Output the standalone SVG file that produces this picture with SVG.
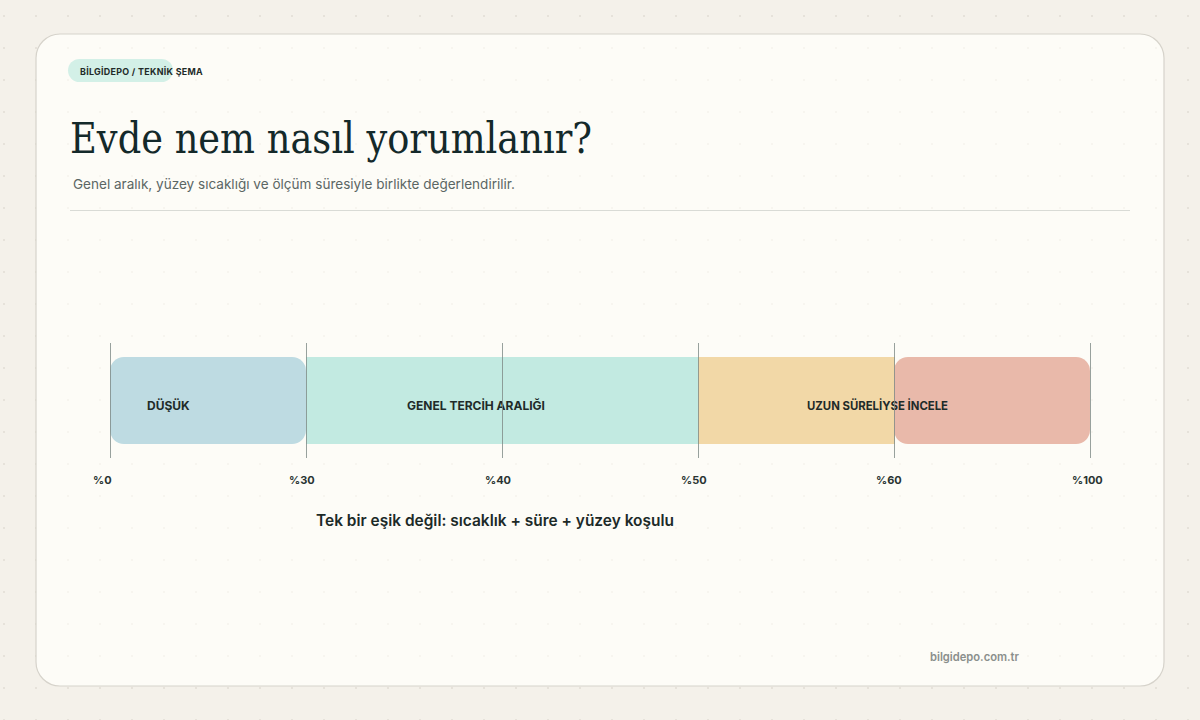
<svg xmlns="http://www.w3.org/2000/svg" width="1200" height="720" viewBox="0 0 1200 720">
<defs>
<pattern id="dots" x="0" y="0" width="32" height="32" patternUnits="userSpaceOnUse">
<circle cx="4" cy="16" r="1" fill="#e2ded5"/>
</pattern>
<style>
.sans{font-family:Inter,"Noto Sans","Liberation Sans",sans-serif;}
.tick{stroke:#7f8b87;stroke-width:1;opacity:0.8;}
.tl{font-family:Inter,"Noto Sans","Liberation Sans",sans-serif;font-size:11px;font-weight:700;fill:#2a3432;}
.bl{font-family:Inter,"Noto Sans","Liberation Sans",sans-serif;font-size:12px;font-weight:700;fill:#1f2b29;}
</style>
</defs>
<rect width="1200" height="720" fill="#f4f1ea"/>
<rect width="1200" height="720" fill="url(#dots)"/>
<rect x="36" y="34" width="1128" height="652" rx="24" fill="#fdfcf7" stroke="#d6d3cb" stroke-width="1.2"/>
<rect x="36" y="34" width="1128" height="652" rx="24" fill="url(#dots)" opacity="0.3"/>

<g id="header">
<rect x="68" y="59" width="105" height="23" rx="11.5" fill="#d3f0e7"/>
<text x="80" y="74.5" class="sans" font-size="9" font-weight="700" letter-spacing="0.3" fill="#1f2b29" textLength="123" lengthAdjust="spacingAndGlyphs">BİLGİDEPO / TEKNİK ŞEMA</text>
<text x="70" y="153" font-family="'DejaVu Serif','Liberation Serif',serif" font-size="42" fill="#14292a" textLength="522" lengthAdjust="spacingAndGlyphs">Evde nem nasıl yorumlanır?</text>
<text x="73" y="189" class="sans" font-size="13.6" fill="#5b6664" textLength="442" lengthAdjust="spacingAndGlyphs">Genel aralık, yüzey sıcaklığı ve ölçüm süresiyle birlikte değerlendirilir.</text>
<line x1="70" y1="210.5" x2="1130" y2="210.5" stroke="#d9dbd6" stroke-width="1"/>
</g>

<g id="band-dusuk">
<rect x="110" y="357" width="196" height="87" rx="14" fill="#bedbe2"/>
<text x="147" y="410" class="bl">DÜŞÜK</text>
</g>
<g id="band-genel">
<rect x="306" y="357" width="392" height="87" fill="#c2eae1"/>
<text x="476" y="410" class="bl" text-anchor="middle">GENEL TERCİH ARALIĞI</text>
</g>
<g id="band-uzun">
<rect x="698" y="357" width="197" height="87" fill="#f2d8a7"/>
</g>
<g id="band-incele">
<rect x="894" y="357" width="196" height="87" rx="14" fill="#e9b9aa"/>
</g>
<text x="807" y="410" class="bl" textLength="141" lengthAdjust="spacingAndGlyphs">UZUN SÜRELİYSE İNCELE</text>

<g id="connectors">
<line class="tick" x1="110.5" y1="343" x2="110.5" y2="458"/>
<line class="tick" x1="306.5" y1="343" x2="306.5" y2="458"/>
<line class="tick" x1="502.5" y1="343" x2="502.5" y2="458"/>
<line class="tick" x1="698.5" y1="343" x2="698.5" y2="458"/>
<line class="tick" x1="894.5" y1="343" x2="894.5" y2="458"/>
<line class="tick" x1="1090.5" y1="343" x2="1090.5" y2="458"/>
</g>

<g id="scale">
<text x="93" y="484" class="tl">%0</text>
<text x="289" y="484" class="tl">%30</text>
<text x="485" y="484" class="tl">%40</text>
<text x="681" y="484" class="tl">%50</text>
<text x="876" y="484" class="tl">%60</text>
<text x="1072" y="484" class="tl">%100</text>
</g>

<g id="caption">
<text x="316" y="526" class="sans" font-size="15.5" font-weight="600" fill="#1c2a28" textLength="358" lengthAdjust="spacingAndGlyphs">Tek bir eşik değil: sıcaklık + süre + yüzey koşulu</text>
</g>
<g id="footer">
<text x="930" y="661" class="sans" font-size="11.5" font-weight="600" fill="#8a8f8c" textLength="89" lengthAdjust="spacingAndGlyphs">bilgidepo.com.tr</text>
</g>
</svg>
